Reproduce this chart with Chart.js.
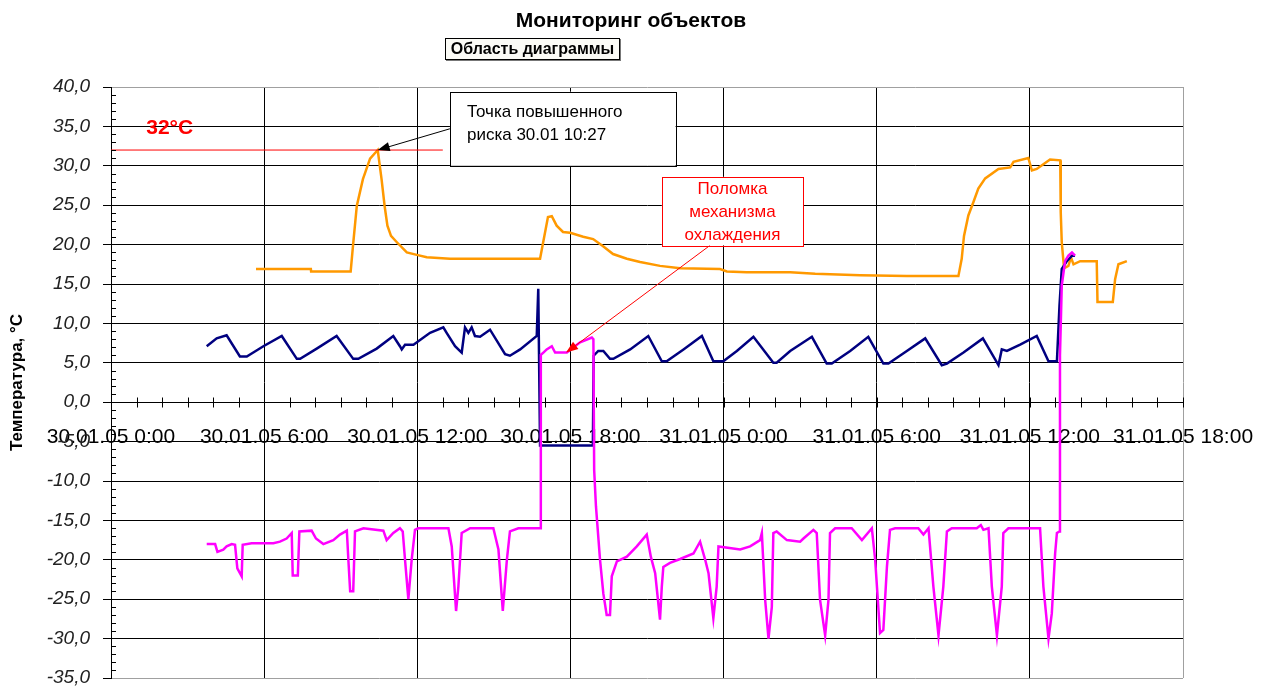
<!DOCTYPE html>
<html lang="ru">
<head>
    <meta charset="UTF-8" />
    <title>Мониторинг объектов</title>
    <script src="https://cdn.jsdelivr.net/npm/chart.js"></script>
    <style>
        html, body {
            margin: 0;
            padding: 0;
            background: #fff;
        }

        .wrap {
            position: relative;
            width: 1263px;
            height: 686px;
        }

        .chart-title {
            position: absolute;
            left: 0;
            top: 7px;
            width: 1262px;
            text-align: center;
            font: bold 21px "Liberation Sans", Arial, sans-serif;
            line-height: 26px;
        }

        .area-tag {
            position: absolute;
            left: 445px;
            top: 38px;
            width: 173px;
            height: 20px;
            border: 1px solid #000;
            box-shadow: 1px 1px 0 #777;
            background: #fbfbf6;
            font: bold 16px "Liberation Sans", Arial, sans-serif;
            line-height: 20px;
            text-align: center;
        }
    </style>
</head>
<body>

<div class="wrap">
    <canvas id="monitor" width="1263" height="686"></canvas>
    <div class="chart-title">Мониторинг объектов</div>
    <div class="area-tag">Область диаграммы</div>
</div>

<script>
    // hours from 30.01.05 0:00, temperature in °C
    const xTickLabels = ['30.01.05 0:00', '30.01.05 6:00', '30.01.05 12:00', '30.01.05 18:00',
                         '31.01.05 0:00', '31.01.05 6:00', '31.01.05 12:00', '31.01.05 18:00'];

    const orangeSeries = [
        [5.68, 16.9], [7.83, 16.9], [7.84, 16.6], [9.39, 16.6], [9.48, 19.8], [9.63, 24.9], [9.87, 28.3],
        [10.15, 30.9], [10.45, 32.0], [10.6, 28.3], [10.72, 24.9], [10.83, 22.4], [10.97, 21.1], [11.2, 20.3],
        [11.59, 19.0], [11.98, 18.7], [12.37, 18.4], [13.28, 18.2], [16.81, 18.2], [17.12, 23.5], [17.27, 23.6],
        [17.46, 22.4], [17.71, 21.6], [17.99, 21.5], [18.5, 21.0], [18.89, 20.7], [19.28, 19.8], [19.67, 18.8],
        [20.21, 18.2], [20.73, 17.8], [21.51, 17.3], [22.3, 17.0], [23.86, 16.9], [24.13, 16.6], [24.91, 16.5],
        [26.61, 16.5], [27.59, 16.3], [29.35, 16.1], [31.18, 16.0], [33.2, 16.0], [33.33, 18.2], [33.42, 21.1],
        [33.59, 23.7], [33.79, 25.4], [33.98, 27.1], [34.25, 28.4], [34.77, 29.6], [35.23, 29.8], [35.36, 30.5],
        [35.94, 31.0], [36.08, 29.4], [36.27, 29.6], [36.53, 30.2], [36.79, 30.8], [37.19, 30.7], [37.21, 24.1],
        [37.25, 20.3], [37.34, 17.0], [37.51, 17.3], [37.61, 18.4], [37.71, 17.5], [37.97, 17.9], [38.62, 17.9],
        [38.65, 12.7], [39.25, 12.7], [39.34, 15.6], [39.47, 17.5], [39.8, 17.9]
    ];

    const navySeries = [
        [3.75, 7.1], [4.14, 8.1], [4.53, 8.5], [5.05, 5.8], [5.32, 5.8], [5.97, 7.1], [6.69, 8.4], [7.28, 5.5],
        [7.41, 5.5], [8.06, 6.8], [8.84, 8.4], [9.49, 5.5], [9.69, 5.5], [10.41, 6.8], [11.06, 8.4], [11.32, 7.1],
        [11.39, 6.7], [11.52, 7.3], [11.85, 7.3], [12.5, 8.8], [13.02, 9.5], [13.15, 8.8], [13.48, 7.1],
        [13.74, 6.3], [13.87, 9.5], [14.0, 8.8], [14.13, 9.5], [14.26, 8.4], [14.46, 8.3], [14.85, 9.2],
        [15.44, 6.1], [15.63, 5.9], [16.03, 6.7], [16.68, 8.4], [16.74, 14.4], [16.81, -5.5], [18.88, -5.5],
        [18.91, 5.9], [19.09, 6.5], [19.29, 6.5], [19.55, 5.5], [19.68, 5.5], [20.34, 6.7], [21.05, 8.4],
        [21.58, 5.2], [21.77, 5.2], [22.43, 6.7], [23.15, 8.4], [23.6, 5.2], [23.99, 5.2], [24.52, 6.5],
        [25.17, 8.3], [25.95, 5.0], [26.08, 5.0], [26.61, 6.5], [27.46, 8.3], [28.04, 4.9], [28.24, 4.9],
        [28.96, 6.5], [29.67, 8.3], [30.26, 4.9], [30.46, 4.9], [31.18, 6.5], [31.9, 8.1], [32.55, 4.7],
        [32.75, 4.9], [33.4, 6.3], [34.16, 8.1], [34.77, 4.7], [34.9, 6.7], [35.1, 6.5], [35.62, 7.3],
        [36.27, 8.4], [36.73, 5.2], [37.06, 5.2], [37.16, 12.2], [37.25, 16.9], [37.45, 17.9], [37.65, 18.6],
        [37.77, 18.6]
    ];

    const magentaSeries = [
        [3.75, -18.0], [4.08, -18.0], [4.17, -19.0], [4.4, -18.7], [4.53, -18.3], [4.73, -18.0], [4.86, -18.1],
        [4.95, -21.1], [5.12, -22.1], [5.16, -18.1], [5.51, -17.9], [6.36, -17.9], [6.62, -17.7], [6.88, -17.3],
        [7.08, -16.6], [7.12, -22.0], [7.32, -22.0], [7.38, -16.4], [7.86, -16.3], [8.03, -17.3], [8.32, -18.0],
        [8.71, -17.5], [8.97, -16.8], [9.24, -16.3], [9.3, -20.0], [9.37, -24.0], [9.49, -24.0], [9.56, -16.4],
        [9.89, -16.0], [10.67, -16.3], [10.8, -17.5], [11.06, -16.6], [11.32, -16.0], [11.43, -16.4],
        [11.52, -20.0], [11.65, -25.0], [11.78, -20.0], [11.91, -16.2], [12.04, -16.0], [13.22, -16.0],
        [13.35, -18.3], [13.52, -26.5], [13.61, -23.4], [13.74, -16.6], [14.07, -16.0], [14.98, -16.0],
        [15.18, -18.7], [15.35, -26.5], [15.51, -20.0], [15.63, -16.4], [15.96, -16.0], [16.81, -16.0],
        [16.84, 6.0], [16.94, 6.3], [17.07, 6.7], [17.27, 7.1], [17.4, 6.3], [17.86, 6.3], [18.38, 7.6],
        [18.84, 8.2], [18.9, 8.0], [18.93, -8.6], [19.0, -13.2], [19.16, -20.0], [19.29, -24.3], [19.42, -27.0],
        [19.55, -27.0], [19.62, -22.1], [19.82, -20.2], [20.21, -19.6], [20.6, -18.3], [20.99, -16.8],
        [21.15, -19.6], [21.32, -21.7], [21.51, -27.6], [21.58, -23.4], [21.64, -20.9], [21.9, -20.4],
        [22.3, -19.9], [22.82, -19.2], [23.08, -17.7], [23.28, -20.0], [23.41, -21.7], [23.6, -27.4],
        [23.73, -23.4], [23.8, -18.3], [24.65, -18.7], [25.04, -18.3], [25.43, -17.5], [25.5, -16.6],
        [25.63, -25.1], [25.76, -30.0], [25.89, -26.0], [25.95, -16.6], [26.08, -16.4], [26.48, -17.5],
        [27.0, -17.7], [27.13, -17.3], [27.52, -16.2], [27.65, -16.6], [27.78, -25.1], [27.98, -29.6],
        [28.11, -25.1], [28.17, -16.6], [28.37, -16.0], [29.02, -16.0], [29.42, -17.5], [29.81, -16.0],
        [29.94, -20.0], [30.13, -29.3], [30.26, -28.9], [30.4, -20.9], [30.52, -16.2], [30.72, -16.0],
        [31.63, -16.0], [31.83, -16.8], [32.03, -16.0], [32.22, -23.4], [32.42, -29.6], [32.61, -23.4],
        [32.75, -16.4], [32.94, -16.0], [33.92, -16.0], [34.08, -15.6], [34.18, -16.2], [34.38, -16.0],
        [34.51, -23.4], [34.71, -29.6], [34.9, -23.4], [34.96, -16.6], [35.16, -16.0], [36.4, -16.0],
        [36.53, -23.4], [36.73, -30.0], [36.86, -26.8], [36.99, -19.2], [37.06, -16.6], [37.16, -16.4],
        [37.18, 5.9], [37.25, 14.8], [37.38, 17.9], [37.51, 18.6], [37.65, 19.0], [37.77, 18.6]
    ];

    const riskTemp = 32;          // порог
    const riskLineEndHour = 13.0;
    const riskPeak = [10.45, 32]; // 30.01 10:27
    const breakdownPoint = [17.83, 6.3];

    const toPoints = arr => arr.map(p => ({ x: p[0], y: p[1] }));

    // simple arrow with a filled head at (x2, y2)
    function drawArrow(ctx, x1, y1, x2, y2, color) {
        const ang = Math.atan2(y2 - y1, x2 - x1);
        ctx.strokeStyle = color;
        ctx.fillStyle = color;
        ctx.lineWidth = 1;
        ctx.beginPath();
        ctx.moveTo(x1, y1);
        ctx.lineTo(x2 - 8 * Math.cos(ang), y2 - 8 * Math.sin(ang));
        ctx.stroke();
        ctx.beginPath();
        ctx.moveTo(x2, y2);
        ctx.lineTo(x2 - 12 * Math.cos(ang) + 4.5 * Math.sin(ang), y2 - 12 * Math.sin(ang) - 4.5 * Math.cos(ang));
        ctx.lineTo(x2 - 12 * Math.cos(ang) - 4.5 * Math.sin(ang), y2 - 12 * Math.sin(ang) + 4.5 * Math.cos(ang));
        ctx.closePath();
        ctx.fill();
    }

    const decorations = {
        id: 'decorations',
        afterDatasetsDraw(chart) {
            const { ctx, chartArea: a, scales: { x, y } } = chart;
            ctx.save();
            ctx.strokeStyle = '#000';
            ctx.lineWidth = 1;

            // minor ticks on the value axis
            ctx.beginPath();
            for (let v = y.min; v <= y.max; v++) {
                if (v % 5 === 0) continue;
                const py = Math.round(y.getPixelForValue(v)) + 0.5;
                ctx.moveTo(a.left, py);
                ctx.lineTo(a.left + 5, py);
            }
            // hourly ticks crossing the zero line
            const y0 = Math.round(y.getPixelForValue(0)) + 0.5;
            for (let h = x.min; h <= x.max; h++) {
                const px = Math.round(x.getPixelForValue(h)) + 0.5;
                ctx.moveTo(px, y0 - 5);
                ctx.lineTo(px, y0 + 5);
            }
            ctx.stroke();

            // 32°C label
            ctx.fillStyle = '#ff0000';
            ctx.font = 'bold 21px "Liberation Sans", Arial, sans-serif';
            ctx.textAlign = 'left';
            ctx.textBaseline = 'middle';
            ctx.fillText(riskTemp + '°C', x.getPixelForValue(1.38), y.getPixelForValue(34.8));

            // callout 1
            const b1x = x.getPixelForValue(13.28), b1y = y.getPixelForValue(39.4);
            const b1w = x.getPixelForValue(22.12) - b1x, b1h = y.getPixelForValue(30.0) - b1y;
            drawArrow(ctx, b1x, y.getPixelForValue(34.7),
                x.getPixelForValue(riskPeak[0]), y.getPixelForValue(riskPeak[1]), '#000');
            ctx.fillStyle = '#fff';
            ctx.fillRect(b1x, b1y, b1w, b1h);
            ctx.strokeStyle = '#000';
            ctx.strokeRect(Math.round(b1x) + 0.5, Math.round(b1y) + 0.5, Math.round(b1w), Math.round(b1h));
            ctx.fillStyle = '#000';
            ctx.font = '17px "Liberation Sans", Arial, sans-serif';
            ctx.fillText('Точка повышенного', b1x + 17, b1y + 21);
            ctx.fillText('риска 30.01 10:27', b1x + 17, b1y + 44);

            // callout 2
            const b2x = x.getPixelForValue(21.58), b2y = y.getPixelForValue(28.6);
            const b2w = x.getPixelForValue(27.12) - b2x, b2h = y.getPixelForValue(19.9) - b2y;
            drawArrow(ctx, x.getPixelForValue(23.47), y.getPixelForValue(19.9),
                x.getPixelForValue(breakdownPoint[0]), y.getPixelForValue(breakdownPoint[1]), '#ff0000');
            ctx.fillStyle = '#fff';
            ctx.fillRect(b2x, b2y, b2w, b2h);
            ctx.strokeStyle = '#ff0000';
            ctx.strokeRect(Math.round(b2x) + 0.5, Math.round(b2y) + 0.5, Math.round(b2w), Math.round(b2h));
            ctx.fillStyle = '#ff0000';
            ctx.textAlign = 'center';
            ctx.fillText('Поломка', b2x + b2w / 2, b2y + 12);
            ctx.fillText('механизма', b2x + b2w / 2, b2y + 35);
            ctx.fillText('охлаждения', b2x + b2w / 2, b2y + 58);

            ctx.restore();
        }
    };

    Chart.defaults.font.family = '"Liberation Sans", Arial, sans-serif';

    new Chart(document.getElementById('monitor'), {
        type: 'line',
        data: {
            datasets: [
                {
                    label: 'Порог',
                    data: [{ x: 0, y: riskTemp }, { x: riskLineEndHour, y: riskTemp }],
                    borderColor: '#ff0000',
                    borderWidth: 1,
                    pointRadius: 0,
                    order: 0
                },
                {
                    label: 'Объект 3',
                    data: toPoints(magentaSeries),
                    borderColor: '#ff00ff',
                    borderWidth: 2.5,
                    pointRadius: 0,
                    order: 1
                },
                {
                    label: 'Объект 2',
                    data: toPoints(navySeries),
                    borderColor: '#000080',
                    borderWidth: 2.5,
                    pointRadius: 0,
                    order: 2
                },
                {
                    label: 'Объект 1',
                    data: toPoints(orangeSeries),
                    borderColor: '#ff9900',
                    borderWidth: 2.5,
                    pointRadius: 0,
                    order: 3
                }
            ]
        },
        options: {
            responsive: false,
            animation: false,
            layout: { padding: { left: 0, right: 80, top: 87, bottom: 8 } },
            plugins: {
                legend: { display: false },
                tooltip: { enabled: false },
                title: { display: false }
            },
            scales: {
                x: {
                    type: 'linear',
                    min: 0,
                    max: 42,
                    position: { y: 0 },
                    afterFit(s) { s.height = 0; s.paddingLeft = 0; s.paddingRight = 0; },
                    ticks: {
                        stepSize: 6,
                        autoSkip: false,
                        maxRotation: 0,
                        padding: 22,
                        color: '#000',
                        font: { size: 21 },
                        callback: v => xTickLabels[v / 6]
                    },
                    grid: {
                        color: c => (c.tick && c.tick.value === 42) ? '#a0a0a0' : '#000',
                        drawTicks: false,
                        lineWidth: 1
                    },
                    border: { display: true, color: '#000', width: 1 }
                },
                y: {
                    min: -35,
                    max: 40,
                    afterFit(s) { s.width = 111; s.paddingTop = 0; s.paddingBottom = 0; },
                    ticks: {
                        stepSize: 5,
                        padding: 13,
                        color: '#222',
                        font: { size: 19, style: 'italic' },
                        callback: v => v.toFixed(1).replace('.', ',')
                    },
                    grid: {
                        color: c => (c.tick && (c.tick.value === 40 || c.tick.value === -35)) ? '#a0a0a0' : '#000',
                        tickColor: '#000',
                        tickLength: 8
                    },
                    border: { color: '#000' },
                    title: {
                        display: true,
                        text: 'Температура, °C',
                        color: '#000',
                        font: { size: 17, weight: 'bold' },
                        padding: { top: 7, bottom: 0 }
                    }
                }
            }
        },
        plugins: [decorations]
    });
</script>

</body>
</html>
